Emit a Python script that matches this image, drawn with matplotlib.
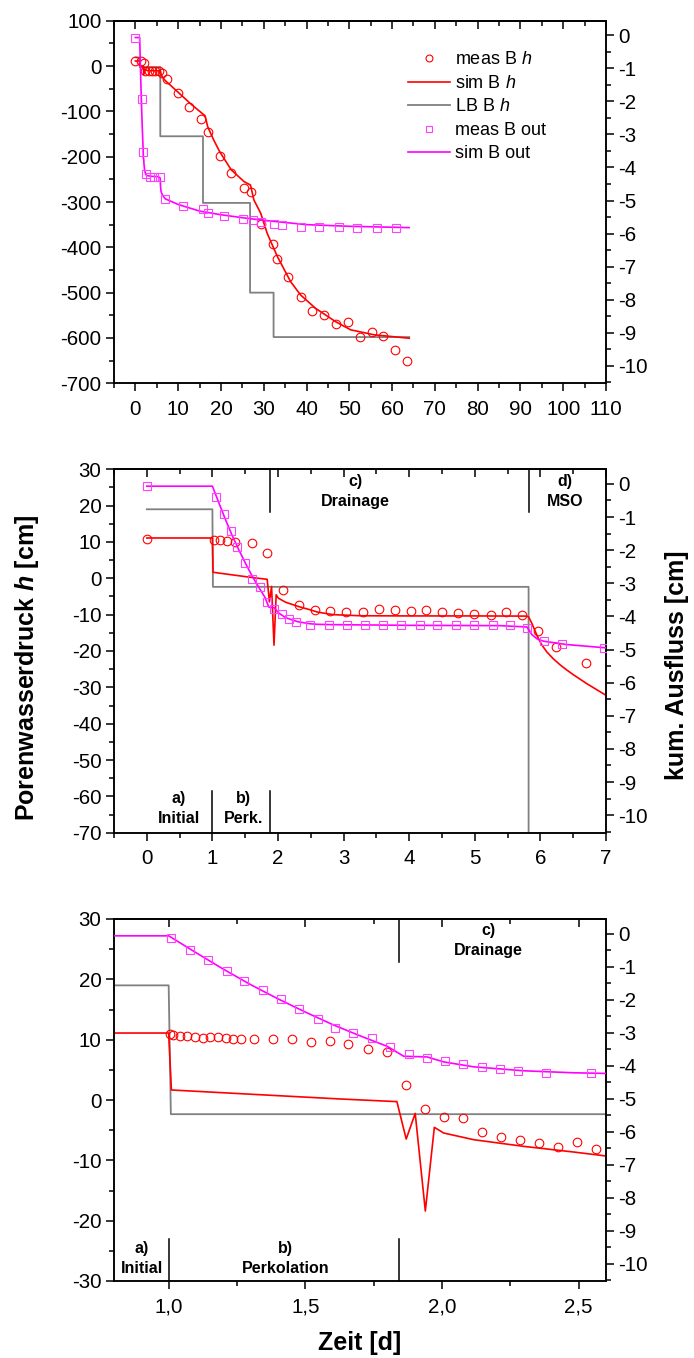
import matplotlib
matplotlib.use("Agg")
import matplotlib.pyplot as plt
from matplotlib.ticker import MultipleLocator, FuncFormatter

plt.rcParams.update({
    "font.family": ["Liberation Sans", "DejaVu Sans"],
    "mathtext.fontset": "custom",
    "mathtext.rm": "Liberation Sans",
    "mathtext.it": "Liberation Sans:italic",
    "mathtext.bf": "Liberation Sans:bold",
    "mathtext.bfit": "Liberation Sans:bold:italic",
    "axes.unicode_minus": False,
    "axes.linewidth": 1.1,
})

# ---------------- simulated series (time in days) ----------------
sim_h_t = [0, 1.0, 1.01, 1.627, 1.835, 1.869, 1.902, 1.939, 1.972, 2.006, 2.116,
           2.30, 2.483, 2.6, 2.84, 3.25, 4.0, 5.0, 5.79, 5.82, 5.87, 5.95, 6.02,
           6.1, 6.2, 6.3, 6.4, 6.5, 6.6, 6.7, 6.8, 6.9, 7.0,
           10.0, 13.0, 16.3, 16.9, 18.3, 19.7, 22.4, 25.4, 26.9, 27.7, 29.3,
           30.8, 33.2, 36.3, 38.6, 42.1, 46.8, 50.3, 55.8, 64.0]
sim_h = [11.1, 11.1, 1.66, 0.17, -0.27, -6.47, -2.22, -18.4, -4.53, -5.47, -6.58,
         -7.69, -8.63, -9.28, -10.0, -10.3, -10.35, -10.35, -10.4, -10.6, -12.4, -15.8,
         -18.3, -20.3, -22.2, -23.8, -25.2, -26.5, -27.7, -28.9, -30.0, -31.1, -32.2,
         -58.0, -84.0, -110.0, -134.0, -163.0, -189.0, -229.0, -255.0, -262.5, -295.5, -325.0,
         -369.0, -420.6, -476.0, -505.0, -534.5, -564.0, -582.0, -593.0, -600.6]

sim_out_t = [0, 1.0, 1.1, 1.2, 1.3, 1.4, 1.5, 1.6, 1.7, 1.8, 1.86, 1.945, 2.006,
             2.116, 2.30, 2.48, 2.6, 2.84, 4.0, 5.39, 5.795, 5.87, 5.95, 6.05, 6.4,
             7.0, 10.0, 15.0, 20.0, 25.0, 30.0, 40.0, 50.0, 64.0]
sim_out = [-0.07, -0.07, -0.58, -1.08, -1.55, -1.98, -2.38, -2.76, -3.10, -3.42,
           -3.72, -3.74, -3.89, -4.04, -4.16, -4.22, -4.24, -4.25, -4.27, -4.28,
           -4.32, -4.55, -4.68, -4.75, -4.85, -4.95, -5.12, -5.32, -5.43, -5.52,
           -5.60, -5.73, -5.78, -5.82]

# lower boundary pressure head (step function)
lb_t = [0, 1.0, 1.008, 5.82, 5.82, 15.8, 15.8, 26.8, 26.8, 32.3, 32.3, 64.0]
lb_h = [19.0, 19.0, -2.35, -2.35, -155.0, -155.0, -302.0, -302.0, -500.0, -500.0,
        -598.0, -598.0]

# ---------------- measurements, whole experiment ----------------
meas1_t = [0, 1.3, 1.95, 2.3, 3.1, 3.9, 4.7, 5.5, 6.2, 7.3, 10.0, 12.6, 15.4, 17.0,
           19.7, 22.4, 25.3, 27.0, 29.3, 32.1, 33.1, 35.7, 38.6, 41.3, 44.0, 46.8,
           49.6, 52.5, 55.2, 57.9, 60.7, 63.6]
meas1_h = [11.0, 11.5, 7.3, -11.0, -11.0, -11.0, -11.0, -11.0, -15.0, -28.0, -60.0,
           -90.0, -116.0, -145.0, -198.0, -236.0, -269.0, -279.0, -348.0, -393.0,
           -425.0, -466.0, -509.0, -540.0, -549.0, -569.0, -564.0, -597.0, -587.0,
           -596.0, -626.0, -651.0]
meas1_out_t = [0, 1.46, 1.8, 2.4, 3.3, 4.4, 5.7, 6.95, 11.2, 15.7, 17.0, 20.6, 25.2,
               27.6, 29.4, 32.4, 34.2, 38.6, 43.0, 47.6, 51.7, 56.4, 60.9]
meas1_out = [-0.08, -1.92, -3.54, -4.20, -4.30, -4.30, -4.28, -4.94, -5.17, -5.26,
             -5.37, -5.47, -5.55, -5.59, -5.64, -5.71, -5.75, -5.80, -5.80, -5.80,
             -5.82, -5.82, -5.82]

# ---------------- measurements, first week ----------------
meas2_t = [0, 1.02, 1.12, 1.22, 1.35, 1.6, 1.83, 2.08, 2.32, 2.56, 2.8, 3.04, 3.29,
           3.54, 3.78, 4.02, 4.26, 4.5, 4.74, 4.99, 5.24, 5.48, 5.72, 5.96, 6.24, 6.69]
meas2_h = [10.9, 10.6, 10.6, 10.3, 9.9, 9.6, 7.05, -3.2, -7.3, -8.6, -9.0, -9.2,
           -9.4, -8.4, -8.8, -9.0, -8.8, -9.2, -9.5, -9.8, -10.0, -9.2, -10.0,
           -14.4, -18.8, -23.2]
meas2_out_t = [0, 1.05, 1.17, 1.28, 1.38, 1.5, 1.61, 1.72, 1.83, 1.94, 2.06, 2.17,
               2.28, 2.49, 2.77, 3.05, 3.32, 3.6, 3.88, 4.16, 4.43, 4.71, 4.99, 5.27,
               5.54, 5.8, 6.05, 6.33, 6.97]
meas2_out = [-0.07, -0.39, -0.92, -1.41, -1.91, -2.39, -2.87, -3.11, -3.56, -3.79,
             -3.92, -4.07, -4.17, -4.26, -4.26, -4.27, -4.27, -4.27, -4.27, -4.27,
             -4.27, -4.27, -4.27, -4.27, -4.27, -4.35, -4.75, -4.83, -4.95]

# ---------------- measurements, percolation / early drainage ----------------
meas3_t = [1.004, 1.016, 1.04, 1.068, 1.095, 1.124, 1.15, 1.181, 1.209, 1.236, 1.264,
           1.312, 1.381, 1.451, 1.52, 1.59, 1.657, 1.729, 1.798, 1.869, 1.939, 2.007,
           2.077, 2.147, 2.216, 2.285, 2.354, 2.424, 2.494, 2.563]
meas3_h = [10.94, 10.8, 10.66, 10.66, 10.5, 10.33, 10.4, 10.4, 10.33, 10.05, 10.05,
           10.1, 10.1, 10.1, 9.66, 9.77, 9.22, 8.4, 8.0, 2.49, -1.44, -2.77, -2.93,
           -5.36, -6.1, -6.69, -7.14, -7.85, -7.02, -8.19]
meas3_out_t = [1.007, 1.077, 1.144, 1.212, 1.276, 1.345, 1.411, 1.478, 1.545, 1.61,
               1.676, 1.743, 1.81, 1.878, 1.945, 2.012, 2.078, 2.145, 2.213, 2.279,
               2.379, 2.546]
meas3_out = [-0.15, -0.51, -0.81, -1.14, -1.45, -1.72, -1.99, -2.29, -2.58, -2.86,
             -3.01, -3.18, -3.44, -3.66, -3.77, -3.87, -3.95, -4.03, -4.10, -4.18,
             -4.24, -4.24]

# phase boundaries (days)
phases2_t = [1.0, 1.88, 5.83]
phases3_t = [1.0, 1.841]

legend_labels = ["meas B $h$", "sim B $h$", "LB B $h$", "meas B out", "sim B out"]

W, H = 694, 1358
fig = plt.figure(figsize=(W / 100, H / 100), dpi=100)


def rect(l, t, r, b):
    return [l / W, 1 - b / H, (r - l) / W, (b - t) / H]


RED = "#ff0000"
MAG = "#ff00ff"
MAG_M = "#ff40ff"
GREY = "#808080"
TICK_FS = 14.8
OUT_LIM = (-10.53, 0.44)


def make_panel(box, xlim, ylim, xmaj, xmin, ymaj, ymin, meas_t, meas_h,
               out_t, out_v, xfmt=None):
    ax = fig.add_axes(rect(*box))
    ax.set_xlim(*xlim)
    ax.set_ylim(*ylim)
    ax.xaxis.set_major_locator(MultipleLocator(xmaj))
    ax.xaxis.set_minor_locator(MultipleLocator(xmin))
    ax.yaxis.set_major_locator(MultipleLocator(ymaj))
    ax.yaxis.set_minor_locator(MultipleLocator(ymin))
    if xfmt is not None:
        ax.xaxis.set_major_formatter(xfmt)
    ax.tick_params(which="both", direction="out", width=1.1, labelsize=TICK_FS,
                   top=False, right=False, colors="black")
    ax.tick_params(which="major", length=6)
    ax.tick_params(which="minor", length=3.5)
    ax.tick_params(axis="x", pad=6)
    ax.tick_params(axis="y", pad=3)

    top = ax.secondary_xaxis("top")
    top.xaxis.set_major_locator(MultipleLocator(xmaj))
    top.xaxis.set_minor_locator(MultipleLocator(xmin))
    top.tick_params(which="both", direction="in", width=1.1, labeltop=False)
    top.tick_params(which="major", length=6)
    top.tick_params(which="minor", length=3.5)

    l_lb, = ax.plot(lb_t, lb_h, color=GREY, lw=1.3, zorder=2)
    l_sim, = ax.plot(sim_h_t, sim_h, color=RED, lw=1.2, zorder=3)
    l_meas, = ax.plot(meas_t, meas_h, "o", mfc="none", mec=RED, ms=6.2, mew=0.8,
                      zorder=4)

    ax2 = ax.twinx()
    ax2.set_ylim(*OUT_LIM)
    ax2.yaxis.set_major_locator(MultipleLocator(1))
    ax2.yaxis.set_minor_locator(MultipleLocator(0.5))
    ax2.tick_params(which="both", direction="out", width=1.1, labelsize=TICK_FS,
                    pad=3)
    ax2.tick_params(which="major", length=6)
    ax2.tick_params(which="minor", length=3.5)
    l_simo, = ax2.plot(sim_out_t, sim_out, color=MAG, lw=1.2, zorder=3)
    l_meao, = ax2.plot(out_t, out_v, "s", mfc="none", mec=MAG_M, ms=5.2, mew=0.8,
                       zorder=4)
    return ax, ax2, (l_meas, l_sim, l_lb, l_meao, l_simo)


# -------- panel 1: whole experiment --------
ax1, ax1r, handles = make_panel((114, 20.7, 606, 383.3), (-5, 110), (-700, 100),
                                10, 5, 100, 50, meas1_t, meas1_h,
                                meas1_out_t, meas1_out)
ax1r.legend(handles, legend_labels,
            loc="upper left", bbox_to_anchor=((408 - 114) / 492, 1 - (51.5 - 20.7) / 362.6),
            frameon=False, fontsize=13, borderpad=0, borderaxespad=0,
            handlelength=2.35, handletextpad=0.25, labelspacing=0.36,
            markerscale=0.8)

# -------- panel 2: first week --------
ax2, ax2r, _ = make_panel((114, 469.3, 606, 832.7), (-0.5, 7), (-70, 30),
                          1, 0.5, 10, 5, meas2_t, meas2_h, meas2_out_t, meas2_out)
ann = dict(ha="center", va="center", fontsize=11.5, fontweight="bold")
for xb in phases2_t[:2]:
    ax2.plot([xb, xb], [-70, -58.4], color="black", lw=1.1, zorder=5)
for xb in phases2_t[1:]:
    ax2.plot([xb, xb], [18.3, 30], color="black", lw=1.1, zorder=5)
ax2.text(0.49, -60.5, "a)", **ann)
ax2.text(0.49, -66.0, "Initial", **ann)
ax2.text(1.47, -60.5, "b)", **ann)
ax2.text(1.47, -66.0, "Perk.", **ann)
ax2.text(3.18, 26.6, "c)", **ann)
ax2.text(3.18, 21.1, "Drainage", **ann)
ax2.text(6.38, 26.6, "d)", **ann)
ax2.text(6.38, 21.1, "MSO", **ann)

# -------- panel 3: percolation and start of drainage --------
comma = FuncFormatter(lambda v, p: f"{v:.1f}".replace(".", ","))
ax3, ax3r, _ = make_panel((114, 919, 606, 1281), (0.8, 2.6), (-30, 30),
                          0.5, 0.25, 10, 5, meas3_t, meas3_h, meas3_out_t, meas3_out,
                          xfmt=comma)
for xb in phases3_t:
    ax3.plot([xb, xb], [-30, -23.1], color="black", lw=1.1, zorder=5)
ax3.plot([phases3_t[1]] * 2, [22.9, 30], color="black", lw=1.1, zorder=5)
ax3.text(0.902, -24.6, "a)", **ann)
ax3.text(0.902, -27.9, "Initial", **ann)
ax3.text(1.429, -24.6, "b)", **ann)
ax3.text(1.429, -27.9, "Perkolation", **ann)
ax3.text(2.169, 28.06, "c)", **ann)
ax3.text(2.169, 24.7, "Drainage", **ann)

# -------- shared axis titles --------
fig.text(27 / W, 1 - 668 / H, r"Porenwasserdruck $\mathbfit{h}$ [cm]", rotation=90,
         ha="center", va="center", fontsize=18, fontweight="bold")
fig.text(677 / W, 1 - 665 / H, "kum. Ausfluss [cm]", rotation=90,
         ha="center", va="center", fontsize=18, fontweight="bold")
fig.text(360 / W, 1 - 1343 / H, "Zeit [d]", ha="center", va="center",
         fontsize=18, fontweight="bold")

fig.savefig("out.png", dpi=100)
